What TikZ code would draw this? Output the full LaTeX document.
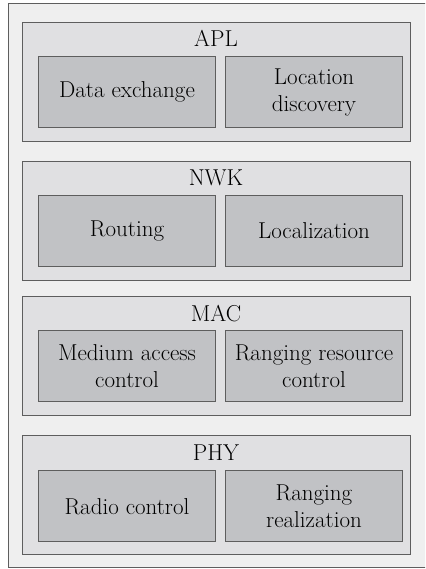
\documentclass[tikz,border=0pt]{standalone}
\usetikzlibrary{positioning}
\definecolor{FrameGray}{HTML}{EFEFEF}
\definecolor{LayerGray}{HTML}{E0E0E2}
\definecolor{PartGray}{HTML}{C1C2C5}
\definecolor{EdgeGray}{HTML}{5E5E5E}
\tikzset{
  frame/.style={draw=EdgeGray, fill=FrameGray, line width=1pt, inner sep=0pt, minimum width=430pt, minimum height=564pt},
  layer/.style={draw=EdgeGray, fill=LayerGray, line width=1pt, inner sep=0pt, minimum width=388pt, minimum height=119pt},
  part/.style={draw=EdgeGray, fill=PartGray, line width=1pt, inner sep=0pt, align=center, minimum width=177pt, minimum height=71pt},
  layertitle/.style={anchor=base, inner sep=0pt}
}

\begin{document}
\begin{tikzpicture}[x=1pt, y=1pt, font=\fontsize{23}{27}\selectfont]
\clip (0,0) rectangle (425,569);
\node[frame, anchor=south west] (frame) at (8,1) {};
% APL
\node[layer] (apl) at (216,487) {};
\node[layertitle] (apltitle) at ([yshift=-25pt]apl.north) {APL};
\node[part, anchor=south west] (apldata) at ([shift={(16.5pt,14pt)}]apl.south west) {Data exchange};
\node[part, right=9pt of apldata] (aplloc) {Location\\discovery};
% NWK
\node[layer] (nwk) at (216,348) {};
\node[layertitle] (nwktitle) at ([yshift=-25pt]nwk.north) {NWK};
\node[part, anchor=south west] (nwkroute) at ([shift={(16.5pt,14pt)}]nwk.south west) {Routing};
\node[part, right=9pt of nwkroute] (nwkloc) {Localization};
% MAC
\node[layer] (mac) at (216,212.5) {};
\node[layertitle] (mactitle) at ([yshift=-25pt]mac.north) {MAC};
\node[part, anchor=south west] (macaccess) at ([shift={(16.5pt,14pt)}]mac.south west) {Medium access\\control};
\node[part, right=9pt of macaccess] (macrange) {Ranging resource\\control};
% PHY
\node[layer] (phy) at (216,73.5) {};
\node[layertitle] (phytitle) at ([yshift=-25pt]phy.north) {PHY};
\node[part, anchor=south west] (phyradio) at ([shift={(16.5pt,13pt)}]phy.south west) {Radio control};
\node[part, right=9pt of phyradio] (phyrange) {Ranging\\realization};
\end{tikzpicture}
\end{document}
